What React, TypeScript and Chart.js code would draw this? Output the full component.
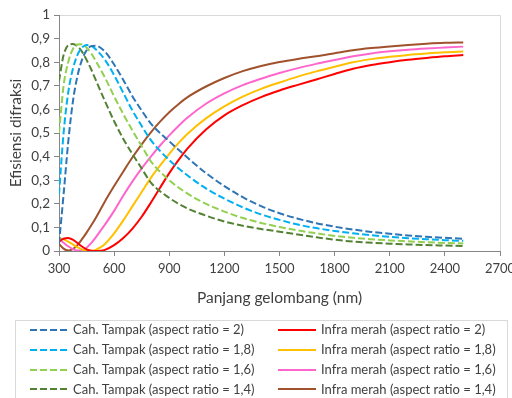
import { useEffect, useRef } from 'react';
import { Chart, registerables } from 'chart.js';

Chart.register(...registerables);

// ---- data ----
const wlVisible = [300, 325, 350, 375, 400, 425, 450, 475, 500, 550, 600, 650, 700, 750, 800, 900, 1000, 1100, 1200, 1300, 1400, 1500, 1600, 1700, 1800, 1900, 2000, 2100, 2200, 2300, 2400, 2500];
const visAR20 = [0.03, 0.24, 0.46, 0.63, 0.74, 0.81, 0.85, 0.868, 0.87, 0.845, 0.79, 0.725, 0.655, 0.595, 0.54, 0.465, 0.395, 0.33, 0.275, 0.228, 0.19, 0.16, 0.137, 0.118, 0.103, 0.091, 0.081, 0.073, 0.066, 0.06, 0.056, 0.052];
const visAR18 = [0.24, 0.5, 0.67, 0.77, 0.83, 0.862, 0.873, 0.87, 0.855, 0.81, 0.745, 0.67, 0.595, 0.53, 0.47, 0.385, 0.32, 0.265, 0.222, 0.185, 0.155, 0.132, 0.112, 0.097, 0.085, 0.075, 0.067, 0.06, 0.054, 0.05, 0.046, 0.043];
const visAR16 = [0.5, 0.7, 0.8, 0.855, 0.875, 0.876, 0.862, 0.838, 0.805, 0.735, 0.655, 0.58, 0.51, 0.445, 0.38, 0.3, 0.243, 0.2, 0.167, 0.14, 0.119, 0.102, 0.087, 0.075, 0.064, 0.056, 0.05, 0.045, 0.041, 0.037, 0.034, 0.032];
const visAR14 = [0.72, 0.83, 0.872, 0.877, 0.868, 0.845, 0.81, 0.77, 0.725, 0.635, 0.55, 0.475, 0.41, 0.35, 0.29, 0.225, 0.18, 0.15, 0.125, 0.107, 0.093, 0.082, 0.07, 0.058, 0.048, 0.04, 0.035, 0.031, 0.028, 0.025, 0.023, 0.021];

const wlInfrared = [300, 325, 350, 375, 400, 425, 450, 475, 500, 525, 550, 600, 650, 700, 750, 800, 850, 900, 950, 1000, 1100, 1200, 1300, 1400, 1500, 1600, 1700, 1800, 1900, 2000, 2100, 2200, 2300, 2400, 2500];
const irAR20 = [0.04, 0.052, 0.055, 0.048, 0.034, 0.019, 0.007, 0.001, 0, 0.001, 0.005, 0.025, 0.055, 0.095, 0.145, 0.205, 0.268, 0.33, 0.385, 0.435, 0.515, 0.575, 0.618, 0.652, 0.68, 0.704, 0.727, 0.75, 0.772, 0.788, 0.8, 0.81, 0.818, 0.825, 0.83];
const irAR18 = [0.055, 0.05, 0.04, 0.028, 0.016, 0.007, 0.002, 0.001, 0.005, 0.015, 0.03, 0.075, 0.13, 0.19, 0.25, 0.31, 0.362, 0.412, 0.457, 0.497, 0.562, 0.613, 0.654, 0.687, 0.714, 0.739, 0.761, 0.781, 0.8, 0.813, 0.823, 0.831, 0.837, 0.842, 0.845];
const irAR16 = [0.05, 0.035, 0.02, 0.008, 0.002, 0.003, 0.014, 0.033, 0.058, 0.085, 0.112, 0.17, 0.235, 0.295, 0.35, 0.4, 0.447, 0.49, 0.53, 0.566, 0.624, 0.668, 0.703, 0.73, 0.754, 0.775, 0.793, 0.809, 0.825, 0.837, 0.846, 0.853, 0.858, 0.862, 0.866];
const irAR14 = [0.03, 0.01, 0.002, 0.008, 0.025, 0.05, 0.078, 0.108, 0.14, 0.175, 0.21, 0.275, 0.337, 0.397, 0.452, 0.503, 0.548, 0.588, 0.622, 0.652, 0.697, 0.733, 0.762, 0.784, 0.801, 0.814, 0.825, 0.838, 0.851, 0.86, 0.867, 0.873, 0.878, 0.882, 0.884];

const seriesLabels = [
  'Cah. Tampak (aspect ratio = 2)',
  'Cah. Tampak (aspect ratio = 1,8)',
  'Cah. Tampak (aspect ratio = 1,6)',
  'Cah. Tampak (aspect ratio = 1,4)',
  'Infra merah (aspect ratio = 2)',
  'Infra merah (aspect ratio = 1,8)',
  'Infra merah (aspect ratio = 1,6)',
  'Infra merah (aspect ratio = 1,4)',
];
const seriesColors = ['#2E75B6', '#00B0F0', '#92D050', '#548235', '#FF0000', '#FFC000', '#FF66CC', '#A0522D'];

const xTitle = 'Panjang gelombang (nm)';
const yTitle = 'Efisiensi difraksi';

const FONT = 'Lato, "Open Sans", sans-serif';
const TEXT = '#404040';
const AXIS = '#868686';

const pts = (xs: number[], ys: number[]) => xs.map((x, i) => ({ x, y: ys[i] }));

const boxLegend = {
  id: 'boxLegend',
  beforeDatasetsDraw(chart: any) {
    const { ctx, chartArea: a } = chart;
    ctx.save();
    ctx.strokeStyle = '#d9d9d9';
    ctx.lineWidth = 1;
    ctx.beginPath();
    ctx.moveTo(a.left + 1, a.top + 0.5);
    ctx.lineTo(Math.round(a.right) + 0.5, a.top + 0.5);
    ctx.lineTo(Math.round(a.right) + 0.5, a.bottom);
    ctx.stroke();
    ctx.restore();
  },
  afterDraw(chart: any) {
    const { ctx } = chart;
    ctx.save();
    ctx.strokeStyle = '#d9d9d9';
    ctx.lineWidth = 1;
    ctx.strokeRect(15.5, 320.5, 492, 100);
    ctx.font = `13px ${FONT}`;
    ctx.fillStyle = TEXT;
    ctx.textBaseline = 'middle';
    ctx.textAlign = 'left';
    chart.data.datasets.forEach((ds: any, i: number) => {
      const col = Math.floor(i / 4);
      const row = i % 4;
      const y = 330 + row * 19.8;
      const x0 = col === 0 ? 30 : 278;
      ctx.strokeStyle = ds.borderColor;
      ctx.lineWidth = 2;
      ctx.setLineDash(ds.borderDash || []);
      ctx.beginPath();
      ctx.moveTo(x0, Math.round(y));
      ctx.lineTo(x0 + 38, Math.round(y));
      ctx.stroke();
      ctx.setLineDash([]);
      ctx.fillText(ds.label, x0 + 43, y);
    });
    ctx.restore();
  },
};

export default function App() {
  const ref = useRef<HTMLCanvasElement>(null);
  useEffect(() => {
    if (!ref.current) return;
    const datasets: any[] = [];
    const vis = [visAR20, visAR18, visAR16, visAR14];
    const ir = [irAR20, irAR18, irAR16, irAR14];
    vis.forEach((v, i) =>
      datasets.push({
        label: seriesLabels[i],
        data: pts(wlVisible, v),
        borderColor: seriesColors[i],
        backgroundColor: seriesColors[i],
        borderWidth: 2,
        borderDash: [7, 3],
        pointRadius: 0,
        cubicInterpolationMode: 'monotone',
        fill: false,
      })
    );
    ir.forEach((v, i) =>
      datasets.push({
        label: seriesLabels[i + 4],
        data: pts(wlInfrared, v),
        borderColor: seriesColors[i + 4],
        backgroundColor: seriesColors[i + 4],
        borderWidth: 2,
        pointRadius: 0,
        cubicInterpolationMode: 'monotone',
        fill: false,
      })
    );
    const chart = new Chart(ref.current, {
      type: 'line',
      data: { datasets },
      plugins: [boxLegend],
      options: {
        responsive: false,
        animation: false,
        devicePixelRatio: 1,
        layout: { padding: { left: 0, top: 15, right: 12, bottom: 87 } },
        plugins: { legend: { display: false }, tooltip: { enabled: false } },
        scales: {
          x: {
            type: 'linear',
            min: 300,
            max: 2700,
            ticks: {
              stepSize: 300,
              font: { family: FONT, size: 13 },
              color: TEXT,
              padding: 5,
              maxRotation: 0,
              callback: (v: any) => String(v),
            },
            grid: { drawOnChartArea: false, drawTicks: true, tickLength: 5, color: AXIS },
            border: { color: AXIS },
            title: { display: true, text: xTitle, font: { family: FONT, size: 15.5 }, color: TEXT, padding: { top: 4, bottom: 4 } },
            afterFit: (s: any) => {
              s.height = 60;
              s.paddingLeft = 0;
              s.paddingRight = 0;
            },
          },
          y: {
            min: 0,
            max: 1,
            ticks: {
              stepSize: 0.1,
              font: { family: FONT, size: 13.5 },
              color: TEXT,
              padding: 4,
              callback: (v: any) => String(Math.round(Number(v) * 10) / 10).replace('.', ','),
            },
            grid: { drawOnChartArea: false, drawTicks: true, tickLength: 5, color: AXIS },
            border: { color: AXIS },
            title: { display: true, text: yTitle, font: { family: FONT, size: 15.5 }, color: TEXT, padding: { top: 7, bottom: 4 } },
            afterFit: (s: any) => {
              s.width = 59;
              s.paddingTop = 0;
              s.paddingBottom = 0;
            },
          },
        },
      } as any,
    });
    return () => chart.destroy();
  }, []);
  return (
    <div style={{ position: 'absolute', left: 0, top: 0, width: 512, height: 398, background: '#fff' }}>
      <canvas ref={ref} width={512} height={398} />
    </div>
  );
}
